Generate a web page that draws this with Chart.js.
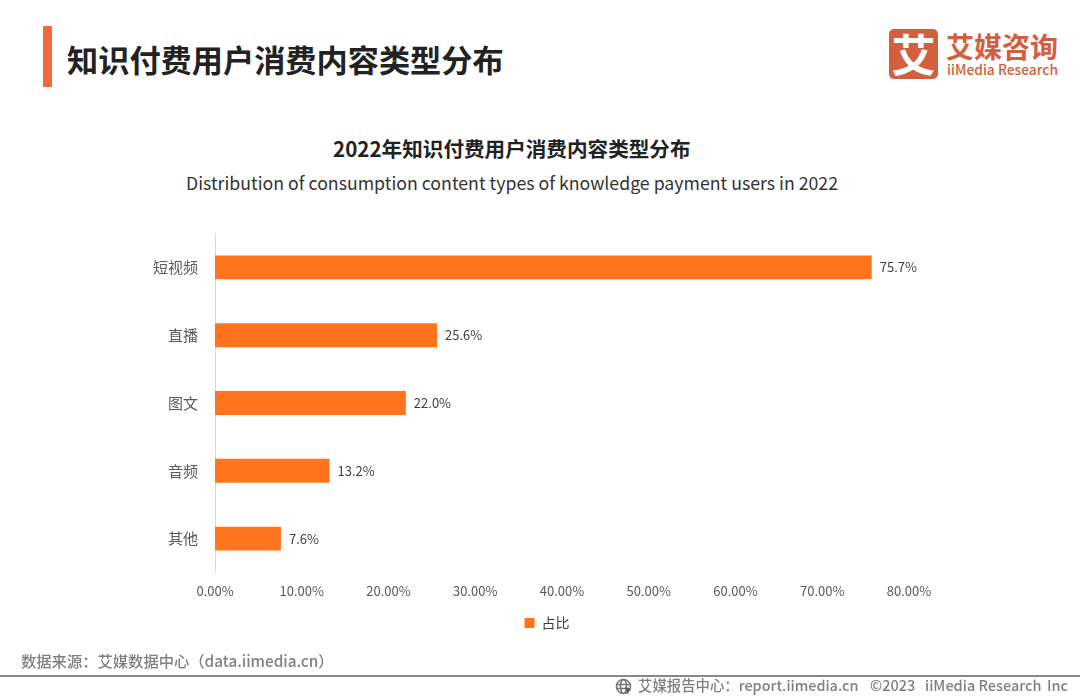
<!DOCTYPE html>
<html>
<head>
<meta charset="utf-8">
<script src="https://cdn.jsdelivr.net/npm/chart.js@4"></script>
<style>
  html, body { margin: 0; padding: 0; background: #fff; }
  body { width: 1080px; height: 700px; position: relative; overflow: hidden; font-family: "Noto Sans CJK SC", "Noto Sans", sans-serif; }
  .abs { position: absolute; white-space: nowrap; line-height: 1; }
  #chartBox { position: absolute; left: 14px; top: 0; width: 1066px; height: 700px; }
</style>
</head>
<body>
<div class="abs" style="left:43px;top:26px;width:9px;height:61px;background:#F4693A"></div>
<div class="abs" style="left:67px;top:43px;font-size:31.2px;font-weight:700;color:#222">知识付费用户消费内容类型分布</div>

<div class="abs" style="left:889px;top:29px;width:49px;height:50px;border-radius:5px;background:#D2603F;color:#fff;font-size:44px;font-weight:700;text-align:center;line-height:48px">艾</div>
<div class="abs" style="left:946px;top:32px;font-size:28px;font-weight:700;color:#D2603F">艾媒咨询</div>
<div class="abs" style="left:947px;top:63px;font-size:13.8px;font-weight:500;color:#D2603F">iiMedia Research</div>

<div class="abs" style="left:333px;top:138px;font-size:20.6px;font-weight:700;color:#222">2022年知识付费用户消费内容类型分布</div>
<div class="abs" style="left:186px;top:174px;font-size:17.72px;color:#333">Distribution of consumption content types of knowledge payment users in 2022</div>

<div id="chartBox"><canvas id="myChart"></canvas></div>

<div class="abs" style="left:21px;top:653px;font-size:15.3px;font-weight:500;color:#7f7f7f">数据来源：艾媒数据中心（data.iimedia.cn）</div>
<div class="abs" style="left:0;top:675px;width:1080px;height:2px;background:#888"></div>
<svg class="abs" style="left:615px;top:678px" width="18" height="18" viewBox="0 0 18 18" fill="none" stroke="#777" stroke-width="1.6">
  <circle cx="8.5" cy="8.5" r="7"/><ellipse cx="8.5" cy="8.5" rx="3" ry="7"/><path d="M1.5 6.5h14M1.5 10.5h14"/>
  <path d="M10 9l6 3-2.5 1L13 17z" fill="#555" stroke="none"/>
</svg>
<div class="abs" style="left:638px;top:678px;font-size:14.4px;font-weight:500;color:#7f7f7f">艾媒报告中心：report.iimedia.cn</div>
<div class="abs" style="left:870px;top:678px;font-size:14.5px;font-weight:500;color:#7f7f7f">©2023</div>
<div class="abs" style="left:925px;top:678px;font-size:14.5px;font-weight:500;color:#7f7f7f">iiMedia Research</div>
<div class="abs" style="left:1047px;top:678px;font-size:14.5px;font-weight:500;color:#7f7f7f">Inc</div>

<script>
const categories = ['短视频', '直播', '图文', '音频', '其他'];
const shares = [75.7, 25.6, 22.0, 13.2, 7.6];
const seriesName = '占比';
const fontFamily = '"Noto Sans CJK SC", "Noto Sans", sans-serif';

// no datalabels plugin available, so write the values next to the bars
const barValues = {
  id: 'barValues',
  afterDatasetsDraw(chart) {
    const ctx = chart.ctx;
    ctx.save();
    ctx.font = '13px ' + fontFamily;
    ctx.fillStyle = '#404040';
    ctx.textAlign = 'left';
    ctx.textBaseline = 'middle';
    chart.getDatasetMeta(0).data.forEach((bar, i) => {
      ctx.fillText(shares[i].toFixed(1) + '%', bar.x + 8, bar.y);
    });
    ctx.restore();
  }
};

new Chart(document.getElementById('myChart'), {
  type: 'bar',
  data: {
    labels: categories,
    datasets: [{
      label: seriesName,
      data: shares,
      backgroundColor: '#FF741D',
      barPercentage: 0.353,
      categoryPercentage: 1
    }]
  },
  options: {
    indexAxis: 'y',
    responsive: true,
    maintainAspectRatio: false,
    animation: false,
    events: [],
    layout: { padding: { top: 233.5, right: 0, bottom: 60, left: 0 } },
    plugins: {
      tooltip: { enabled: false },
      legend: {
        position: 'bottom',
        labels: {
          boxWidth: 10,
          boxHeight: 10,
          padding: 10,
          color: '#404040',
          font: { size: 14, family: fontFamily }
        }
      }
    },
    scales: {
      x: {
        min: 0,
        max: 80,
        afterFit(scale) { scale.height = 33.5; },
        grid: { display: false },
        border: { display: false },
        ticks: {
          stepSize: 10,
          maxRotation: 0,
          color: '#595959',
          padding: 3,
          font: { size: 13, family: fontFamily },
          callback: v => v.toFixed(2) + '%'
        }
      },
      y: {
        afterFit(scale) { scale.width = 201; },
        grid: { display: false },
        border: { display: true, color: '#D9D9D9', width: 1 },
        ticks: {
          color: '#595959',
          padding: 9,
          font: { size: 15, family: fontFamily }
        }
      },
      // empty axis keeps the plot clear of the right side, legend still centres on the whole canvas
      rightGap: {
        type: 'linear',
        position: 'right',
        afterFit(scale) { scale.width = 171; },
        grid: { display: false },
        border: { display: false },
        ticks: { display: false }
      }
    }
  },
  plugins: [barValues]
});
</script>
</body>
</html>
